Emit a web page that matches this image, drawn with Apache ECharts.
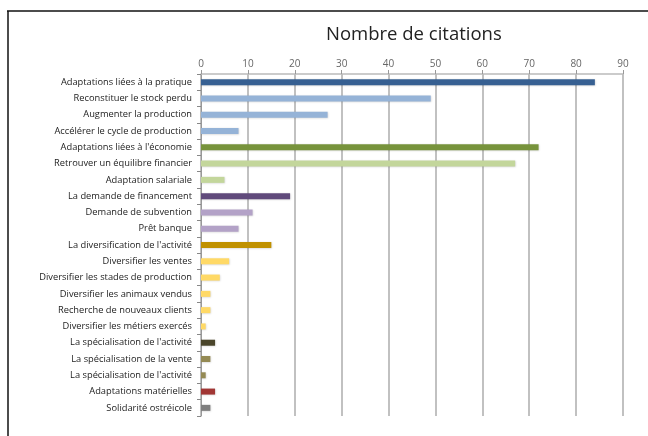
<!DOCTYPE html>
<html>
<head>
<meta charset="utf-8">
<script src="https://cdn.jsdelivr.net/npm/echarts@6/dist/echarts.min.js"></script>
<style>
  html, body { margin: 0; padding: 0; background: #fff; }
  #main { width: 648px; height: 436px; }
</style>
</head>
<body>
<div id="main"></div>
<script>
// categories, top to bottom
const categories = [
  'Adaptations liées à la pratique',
  'Reconstituer le stock perdu',
  'Augmenter la production',
  'Accélérer le cycle de production',
  "Adaptations liées à l'économie",
  'Retrouver un équilibre financier',
  'Adaptation salariale',
  'La demande de financement',
  'Demande de subvention',
  'Prêt banque',
  "La diversification de l'activité",
  'Diversifier les ventes',
  'Diversifier les stades de production',
  'Diversifier les animaux vendus',
  'Recherche de nouveaux clients',
  'Diversifier les métiers exercés',
  "La spécialisation de l'activité",
  'La spécialisation de la vente',
  "La spécialisation de l'activité",
  'Adaptations matérielles',
  'Solidarité ostréicole'
]
const citations = [84, 49, 27, 8, 72, 67, 5, 19, 11, 8, 15, 6, 4, 2, 2, 1, 3, 2, 1, 3, 2]
const barColors = [
  '#376092', '#95b3d7', '#95b3d7', '#95b3d7',
  '#77933c', '#c3d69b', '#c3d69b',
  '#604a7b', '#b3a2c7', '#b3a2c7',
  '#c09100', '#ffd966', '#ffd966', '#ffd966', '#ffd966', '#ffd966',
  '#4a452a', '#948a54', '#948a54',
  '#a13634', '#7f7f7f'
]

const chart = echarts.init(document.getElementById('main'), null, { renderer: 'canvas' })

const option = {
  animation: false,
  title: {
    text: 'Nombre de citations',
    left: 321,
    top: 20,
    textStyle: {
      fontFamily: 'Open Sans',
      fontSize: 18.5,
      fontWeight: 'normal',
      color: '#222'
    }
  },
  grid: {
    left: 201,
    right: 25,
    top: 74,
    bottom: 20,
    containLabel: false
  },
  xAxis: {
    type: 'value',
    position: 'top',
    min: 0,
    max: 90,
    interval: 10,
    axisLine: { show: true, lineStyle: { color: '#bbb', width: 1.5 } },
    axisTick: { show: true, length: 4, lineStyle: { color: '#999' } },
    axisLabel: { color: '#666', fontFamily: 'Open Sans', fontSize: 10, margin: 5 },
    splitLine: { show: true, lineStyle: { color: '#adadad', width: 1.5 } }
  },
  yAxis: {
    type: 'category',
    inverse: true,
    data: categories,
    axisLine: { show: true, lineStyle: { color: '#999', width: 1 } },
    axisTick: { show: true, length: 4, lineStyle: { color: '#888' } },
    axisLabel: { color: '#222', fontFamily: 'Open Sans', fontSize: 9.3, margin: 9 }
  },
  series: [{
    type: 'bar',
    barWidth: 6,
    data: citations.map((v, i) => ({
      value: v,
      itemStyle: { color: barColors[i] }
    })),
    itemStyle: {
      shadowColor: 'rgba(0,0,0,0.18)',
      shadowBlur: 2,
      shadowOffsetX: 0.5,
      shadowOffsetY: 0.5
    }
  }],
  graphic: [
    { type: 'line', shape: { x1: 7, y1: 11, x2: 648, y2: 11 }, style: { stroke: '#111', lineWidth: 1.5 } },
    { type: 'line', shape: { x1: 8, y1: 11, x2: 8, y2: 436 }, style: { stroke: '#111', lineWidth: 1.5 } }
  ]
}

chart.setOption(option)
</script>
</body>
</html>
